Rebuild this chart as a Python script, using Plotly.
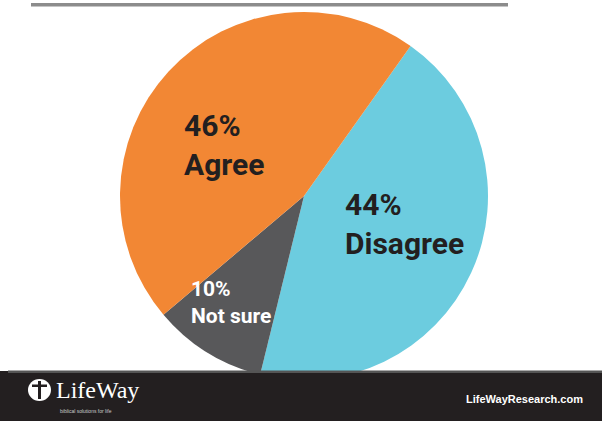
import plotly.graph_objects as go

labels = ["Disagree", "Not sure", "Agree"]
values = [44, 10, 46]
colors = ["#6CCCDF", "#58585A", "#F28734"]

W, H = 602, 421

def px(x):
    return x / W

def py(y):
    return 1 - y / H

fig = go.Figure()
fig.add_trace(go.Pie(
    labels=labels, values=values, sort=False, direction="clockwise",
    rotation=35.4, marker=dict(colors=colors, line=dict(width=0)),
    textinfo="none", hoverinfo="label+percent", showlegend=False,
    domain=dict(x=[px(120), px(488)], y=[py(380), py(12)]),
))

font_bold = "Liberation Sans Narrow, Roboto, Arial Narrow, sans-serif"
anns = [
    dict(x=px(182), y=py(106), text="<b>46%<br>Agree</b>", color="#231F20", size=30),
    dict(x=px(343), y=py(185), text="<b>44%<br>Disagree</b>", color="#231F20", size=30),
    dict(x=px(189), y=py(275), text="<b>10%<br>Not sure</b>", color="#FFFFFF", size=21),
]
annotations = []
for a in anns:
    annotations.append(dict(
        x=a["x"], y=a["y"], xref="paper", yref="paper", xanchor="left", yanchor="top",
        text=a["text"], showarrow=False, align="left",
        font=dict(family=font_bold, size=a["size"], color=a["color"])))

annotations.append(dict(x=px(54), y=py(390), xref="paper", yref="paper", xanchor="left",
                        yanchor="middle", text="LifeWay", showarrow=False,
                        font=dict(family="Liberation Serif, DejaVu Serif, serif", size=24, color="white")))
annotations.append(dict(x=px(58), y=py(411), xref="paper", yref="paper", xanchor="left",
                        yanchor="middle", text="biblical solutions for life", showarrow=False,
                        font=dict(family="Liberation Sans, sans-serif", size=5, color="#cccccc")))
annotations.append(dict(x=px(585), y=py(399), xref="paper", yref="paper", xanchor="right",
                        yanchor="middle", text="<b>LifeWayResearch.com</b>", showarrow=False,
                        font=dict(family="Liberation Sans, Arial, sans-serif", size=11, color="white")))

shapes = [
    dict(type="rect", xref="paper", yref="paper", x0=px(31), x1=px(508), y0=py(6.5), y1=py(3),
         fillcolor="#8C8C8C", line=dict(width=0), layer="above"),
    dict(type="rect", xref="paper", yref="paper", x0=0, x1=1, y0=0, y1=py(371),
         fillcolor="#231F20", line=dict(width=0), layer="above"),
    dict(type="rect", xref="paper", yref="paper", x0=px(8), x1=1, y0=py(373), y1=py(370.5),
         fillcolor="#555555", line=dict(width=0), layer="above"),
    dict(type="circle", xref="paper", yref="paper", x0=px(28), x1=px(51), y0=py(401), y1=py(379),
         fillcolor="white", line=dict(width=0), layer="above"),
    dict(type="rect", xref="paper", yref="paper", x0=px(38), x1=px(41), y0=py(399), y1=py(381),
         fillcolor="#231F20", line=dict(width=0), layer="above"),
    dict(type="rect", xref="paper", yref="paper", x0=px(32), x1=px(47), y0=py(387), y1=py(384.5),
         fillcolor="#231F20", line=dict(width=0), layer="above"),
]

fig.update_layout(
    width=W, height=H, margin=dict(l=0, r=0, t=0, b=0),
    paper_bgcolor="white", plot_bgcolor="white",
    annotations=annotations, shapes=shapes,
)
fig.write_html("out.html")
